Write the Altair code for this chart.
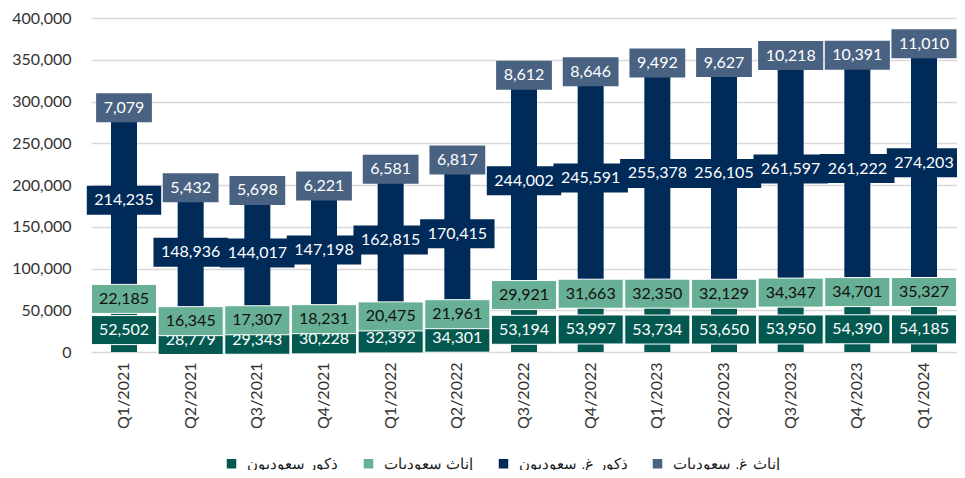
import altair as alt
import pandas as pd

quarters = ["Q1/2021", "Q2/2021", "Q3/2021", "Q4/2021", "Q1/2022", "Q2/2022",
            "Q3/2022", "Q4/2022", "Q1/2023", "Q2/2023", "Q3/2023", "Q4/2023", "Q1/2024"]
series_names = ["ذكور سعوديون", "إناث سعوديات", "ذكور غ. سعوديون", "إناث غ. سعوديات"]

saudi_male = [52502, 28779, 29343, 30228, 32392, 34301, 53194, 53997, 53734, 53650, 53950, 54390, 54185]
saudi_female = [22185, 16345, 17307, 18231, 20475, 21961, 29921, 31663, 32350, 32129, 34347, 34701, 35327]
nonsaudi_male = [214235, 148936, 144017, 147198, 162815, 170415, 244002, 245591, 255378, 256105, 261597, 261222, 274203]
nonsaudi_female = [7079, 5432, 5698, 6221, 6581, 6817, 8612, 8646, 9492, 9627, 10218, 10391, 11010]

colors = ["#03594F", "#67AF95", "#002A58", "#4A6282"]
text_colors = ["#FFFFFF", "#111111", "#FFFFFF", "#FFFFFF"]
box_strokes = ["#FFFFFF", "#FFFFFF", None, None]
y_ticks = [0, 50000, 100000, 150000, 200000, 250000, 300000, 350000, 400000]

rows = []
for si, (name, vals) in enumerate(zip(series_names, [saudi_male, saudi_female, nonsaudi_male, nonsaudi_female])):
    for q, v in zip(quarters, vals):
        rows.append({"quarter": q, "series": name, "value": v, "order": si, "lbl": f"{v:,}"})
df = pd.DataFrame(rows)

base = alt.Chart(df).transform_stack(
    stack="value", groupby=["quarter"], sort=[alt.SortField("order", order="ascending")], as_=["y0", "y1"]
).transform_calculate(
    mid="(datum.y0 + datum.y1) / 2",
    boxw="length(datum.lbl) * 9.3 + 9.3",
)

label_font = "Lato"


def xenc():
    return alt.X(
        "quarter:N", sort=quarters,
        scale=alt.Scale(paddingInner=0.61, paddingOuter=0.3),
        axis=alt.Axis(title=None, labelAngle=-90, labelFont=label_font, labelFontSize=16,
                      labelColor="#333333", ticks=False, domain=False, labelPadding=10),
    )


def yenc(field):
    return alt.Y(
        f"{field}:Q",
        scale=alt.Scale(domain=[0, 400000], nice=False),
        axis=alt.Axis(title=None, values=y_ticks, format=",.0f", grid=True, gridColor="#D9D9D9",
                      gridWidth=1.5, domain=False, ticks=False, labelPadding=20,
                      labelFont=label_font, labelFontSize=16, labelColor="#333333"),
    )


bars = base.mark_bar().encode(
    x=xenc(),
    y=yenc("y0"),
    y2="y1:Q",
    color=alt.Color(
        "series:N", sort=series_names,
        scale=alt.Scale(domain=series_names, range=colors),
        legend=alt.Legend(orient="none", legendX=133, legendY=438, direction="horizontal",
                          title=None, symbolType="square", symbolSize=90, symbolStrokeWidth=0,
                          labelFont="Liberation Sans", labelFontSize=15, labelColor="#222222",
                          labelLimit=0, columnPadding=22, labelOffset=8),
    ),
)

layers = [bars]
for si, name in enumerate(series_names):
    sub = base.transform_filter(alt.datum.series == name)
    tick_kwargs = dict(thickness=29, opacity=1, color=colors[si])
    if box_strokes[si]:
        tick_kwargs.update(stroke=box_strokes[si], strokeWidth=1)
    boxes = sub.mark_tick(**tick_kwargs).encode(
        x=xenc(),
        y=yenc("mid"),
        size=alt.Size("boxw:Q", scale=None, legend=None),
    )
    texts = sub.mark_text(font=label_font, fontSize=16, color=text_colors[si]).encode(
        x=xenc(),
        y=yenc("mid"),
        text="lbl:N",
    )
    layers += [boxes, texts]

chart = alt.layer(*layers).properties(
    width=866, height=334,
    autosize=alt.AutoSizeParams(type="none"),
    padding={"left": 83, "top": 10, "right": 0, "bottom": 118},
).configure_view(stroke=None)

chart.save("out.html", embed_options={"renderer": "svg", "actions": False})
